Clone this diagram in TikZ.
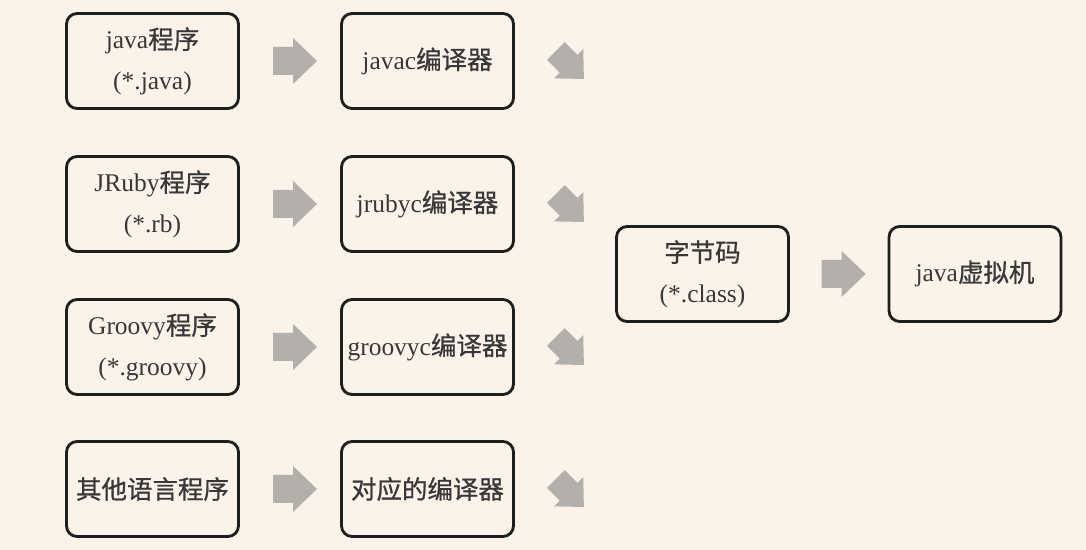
\documentclass[tikz,border=0pt]{standalone}
\usepackage{fontspec}
\setmainfont{Liberation Serif}
\newfontfamily\cjk{Noto Sans CJK SC}[FakeBold=0.8]
\usetikzlibrary{calc,positioning}
\definecolor{paper}{HTML}{FBF3EA}
\definecolor{boxline}{HTML}{1E1E1E}
\definecolor{ink}{HTML}{383838}
\definecolor{arrowgray}{HTML}{B3B0AB}
\tikzset{
  stage/.style={draw=boxline,line width=1.6pt,rounded corners=6pt,fill=paper,
    minimum width=3.44cm,minimum height=1.9cm,align=center,text=ink,
    font=\fontsize{14.5}{23}\selectfont,inner sep=0pt},
  fatarrow/.pic={\fill[arrowgray] (-22,-14) -- (-2,-14) -- (-2,-23) -- (22,0)
    -- (-2,23) -- (-2,14) -- (-22,14) -- cycle;}
}
\begin{document}
\begin{tikzpicture}[x=0.02cm,y=-0.02cm]

\fill[paper] (0,0) rectangle (1086,550);
\useasboundingbox (0,0) rectangle (1086,550);

% source programs and their compilers
\foreach \i/\y/\src/\cmp in {
    1/61/{java{\cjk 程序}\\(*.java)}/{javac{\cjk 编译器}},
    2/204/{JRuby{\cjk 程序}\\(*.rb)}/{jrubyc{\cjk 编译器}},
    3/347/{Groovy{\cjk 程序}\\(*.groovy)}/{groovyc{\cjk 编译器}},
    4/489/{{\cjk 其他语言程序}}/{{\cjk 对应的编译器}}}{
  \node[stage] (src\i) at (152.5,\y) {\src};
  \node[stage] (cmp\i) at (427.5,\y) {\cmp};
  \pic at ($(src\i.east)!0.55!(cmp\i.west)$) {fatarrow};
  \pic[rotate=-45,scale=0.9] at ($(cmp\i.east)+(55,4)$) {fatarrow};
}

\node[stage] (code) at (702.5,274) {{\cjk 字节码}\\(*.class)};
\node[stage] (jvm) at (975,274) {java{\cjk 虚拟机}};
\pic at ($(code.east)!0.55!(jvm.west)$) {fatarrow};

\end{tikzpicture}
\end{document}
